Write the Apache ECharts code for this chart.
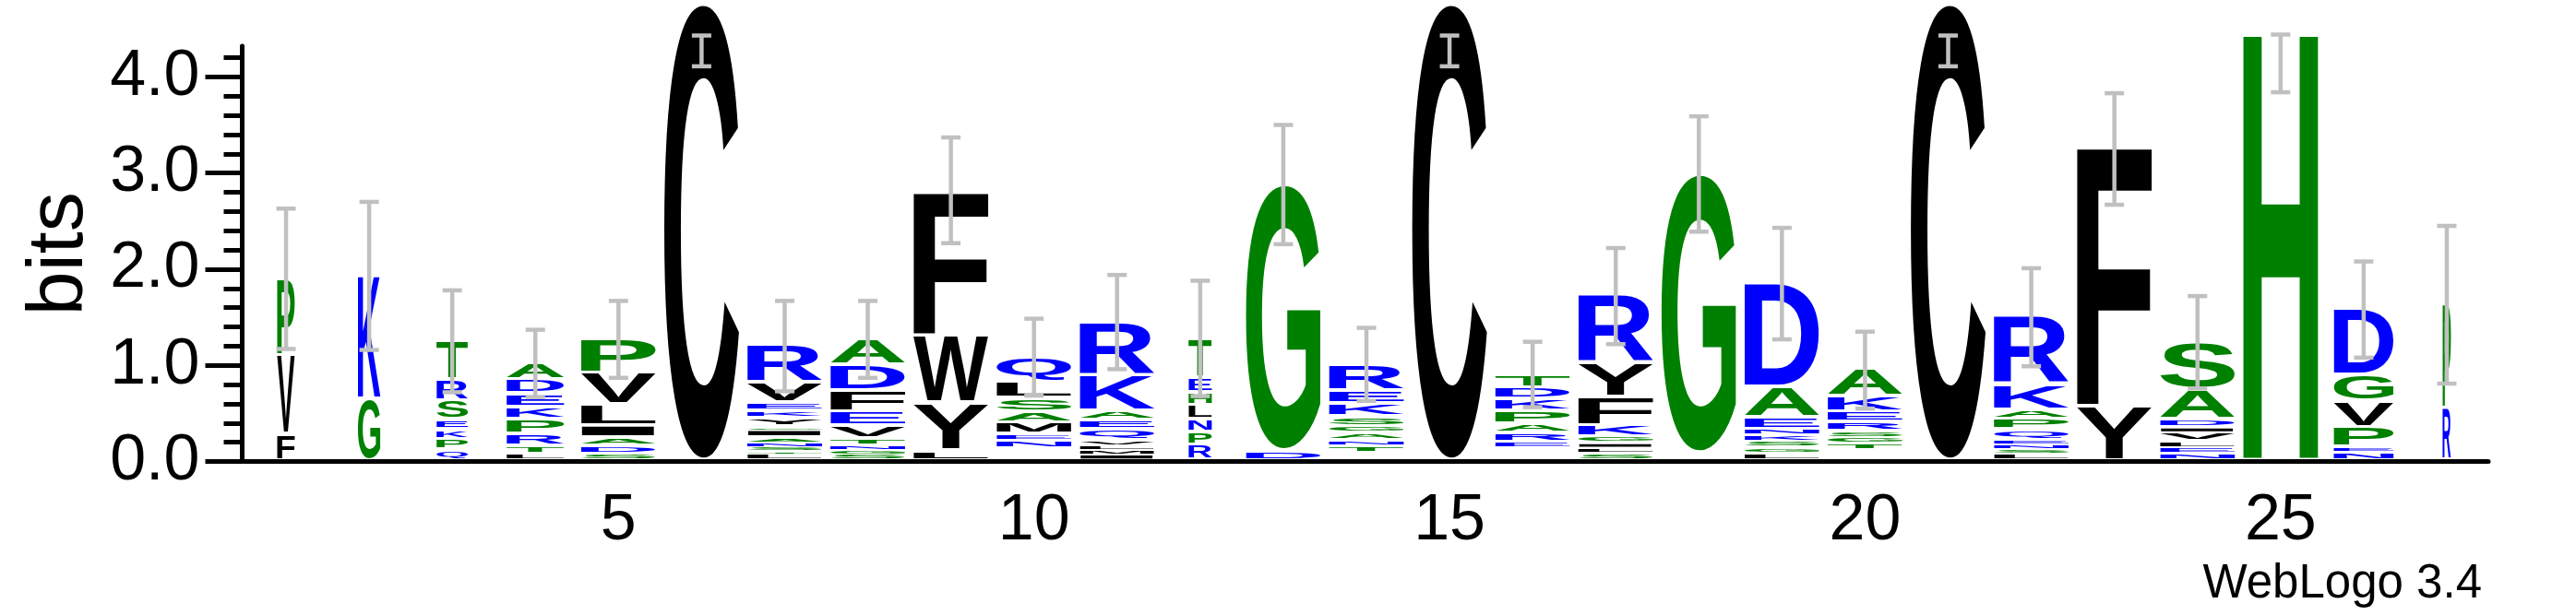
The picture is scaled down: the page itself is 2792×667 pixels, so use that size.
<!DOCTYPE html>
<html><head><meta charset="utf-8">
<script src="https://cdn.jsdelivr.net/npm/echarts@6/dist/echarts.min.js"></script>
<style>html,body{margin:0;padding:0;background:#fff}#c{width:2792px;height:667px}</style>
</head><body><div id="c"></div>
<script>
// ---- data ----
const positions = ['1','2','3','4','5','6','7','8','9','10','11','12','13','14','15','16','17','18','19','20','21','22','23','24','25','26','27'];
const xTickLabels = ['5','10','15','20','25'];
const yLabelValues = [0, 1, 2, 3, 4];
const yMinorValues = [0, 0.2, 0.4, 0.6, 0.8, 1, 1.2, 1.4, 1.6, 1.8, 2, 2.2, 2.4, 2.6, 2.8, 3, 3.2, 3.4, 3.6, 3.8, 4, 4.2];
const yMax = 4.32;
// letters of each stack, bottom to top (' ' = too thin to see)
const columnLetters = ['FVP','GK','QPKESRT','LTRPKEDA','SDAILVP','C','LTSNAIGYKEVR','SGNTVEFDA','LYWF',' NEMASLQ',
  'IMLVQEAKR','RPNLHET','DG',' TNAGSKER','C',' ERAPKDT','SLIGKFYR',' G','LGSKNEAD',' TGSREKA','C','LSNEQPAKR','YF','NELVIDAS','H','NEPVGD','RP'];
// bits of each letter, same order
const columnBits = [
  [0.27, 0.82, 0.81],
  [0.64, 1.29],
  [0.107, 0.112, 0.099, 0.102, 0.198, 0.217, 0.409],
  [0.062, 0.086, 0.128, 0.15, 0.128, 0.137, 0.144, 0.176],
  [0.062, 0.083, 0.089, 0.128, 0.217, 0.326, 0.354],
  [4.75],
  [0.069, 0.032, 0.038, 0.042, 0.054, 0.083, 0.032, 0.086, 0.08, 0.086, 0.208, 0.393],
  [0.062, 0.045, 0.042, 0.08, 0.134, 0.144, 0.217, 0.271, 0.271],
  [0.10, 0.495, 0.70, 1.504],
  [0.12, 0.083, 0.067, 0.118, 0.112, 0.144, 0.166, 0.265],
  [0.062, 0.038, 0.054, 0.051, 0.112, 0.102, 0.096, 0.367, 0.559],
  [0.158, 0.134, 0.134, 0.147, 0.134, 0.153, 0.406],
  [0.10, 2.77],
  [0.078, 0.07, 0.058, 0.077, 0.067, 0.102, 0.137, 0.134, 0.278],
  [4.75],
  [0.126, 0.061, 0.099, 0.093, 0.137, 0.118, 0.121, 0.137],
  [0.069, 0.058, 0.054, 0.064, 0.118, 0.297, 0.351, 0.712],
  [0.078, 2.90],
  [0.075, 0.058, 0.064, 0.064, 0.064, 0.121, 0.319, 1.082],
  [0.11, 0.061, 0.064, 0.064, 0.096, 0.105, 0.16, 0.288],
  [4.75],
  [0.069, 0.048, 0.048, 0.048, 0.105, 0.109, 0.099, 0.262, 0.718],
  [0.561, 2.71],
  [0.07, 0.061, 0.061, 0.094, 0.057, 0.086, 0.307, 0.495],
  [4.46],
  [0.082, 0.057, 0.205, 0.27, 0.274, 0.684],
  [0.54, 1.085]
];
// relative stack width (fraction of sequences without gaps)
const columnWidths = [0.235, 0.30, 0.42, 0.77, 1, 1, 1, 1, 1, 1, 1, 0.31, 1, 1, 1, 1, 1, 1, 1, 1, 1, 1, 1, 1, 1, 0.80, 0.11];
const errorCenter = [1.90, 1.93, 1.25, 1.02, 1.27, 4.27, 1.20, 1.27, 2.82, 1.085, 1.45, 1.28, 2.88, 1.01, 4.27, 0.905, 1.72, 2.99, 1.85, 0.95, 4.27, 1.50, 3.25, 1.24, 4.14, 1.58, 1.63];
const errorHalf   = [0.73, 0.77, 0.53, 0.35, 0.40, 0.16, 0.47, 0.40, 0.55, 0.40, 0.49, 0.60, 0.62, 0.38, 0.16, 0.34, 0.50, 0.60, 0.58, 0.40, 0.16, 0.51, 0.58, 0.48, 0.30, 0.50, 0.82];

// ---- styles ----
const GREEN = '#008000', BLUE = '#0000ff', BLACK = '#000000';
const letterColors = {A:GREEN,G:GREEN,H:GREEN,P:GREEN,S:GREEN,T:GREEN,
  D:BLUE,E:BLUE,K:BLUE,N:BLUE,Q:BLUE,R:BLUE,
  C:BLACK,F:BLACK,I:BLACK,L:BLACK,M:BLACK,V:BLACK,W:BLACK,Y:BLACK};
const LETTER_FONT = 'bold 200px "Liberation Sans"';
const FULL_WIDTH = 0.9;
const FONT = '"Liberation Sans", Arial, sans-serif';

const mctx = document.createElement('canvas').getContext('2d');
mctx.font = LETTER_FONT; mctx.textBaseline = 'middle'; mctx.textAlign = 'left';
const metricCache = {};
function metrics(ch) {
  if (!metricCache[ch]) {
    const m = mctx.measureText(ch);
    metricCache[ch] = {L: m.actualBoundingBoxLeft, R: m.actualBoundingBoxRight, A: m.actualBoundingBoxAscent, D: m.actualBoundingBoxDescent};
  }
  return metricCache[ch];
}

const letterItems = [], letterChars = [];
columnLetters.forEach((s, c) => {
  let base = 0;
  s.split('').forEach((ch, k) => {
    const v = columnBits[c][k];
    letterItems.push([c, base, base + v]);
    letterChars.push(ch);
    base += v;
  });
});
const errorItems = errorCenter.map((m, c) => [c, m, errorHalf[c]]);

const chart = echarts.init(document.getElementById('c'), null, {renderer: 'canvas'});
chart.setOption({
  animation: false,
  backgroundColor: '#fff',
  grid: {left: 265, right: 95, top: 50, bottom: 166.5, containLabel: false},
  xAxis: [{
    type: 'category', data: positions, position: 'bottom', boundaryGap: true,
    axisLine: {lineStyle: {color: '#000', width: 5}},
    axisTick: {alignWithLabel: true, interval: 0, length: 11, lineStyle: {color: '#000', width: 5}},
    axisLabel: {interval: 0, margin: 30, fontSize: 70, color: '#000', fontFamily: FONT,
      formatter: v => xTickLabels.includes(v) ? v : ''},
    splitLine: {show: false}
  }, {
    type: 'category', data: positions, position: 'bottom', boundaryGap: true,
    axisLine: {show: false},
    axisTick: {alignWithLabel: true, interval: (i, v) => xTickLabels.includes(v), length: 22, lineStyle: {color: '#000', width: 5}},
    axisLabel: {show: false}, splitLine: {show: false}
  }],
  yAxis: [{
    type: 'value', min: 0, max: yMax, position: 'left', offset: 2.5,
    axisLine: {show: true, lineStyle: {color: '#000', width: 5}},
    axisTick: {show: true, customValues: yLabelValues, length: 40, lineStyle: {color: '#000', width: 5}},
    axisLabel: {customValues: yLabelValues, margin: 46, fontSize: 70, color: '#000', fontFamily: FONT,
      formatter: v => Number(v).toFixed(1)},
    splitLine: {show: false},
    name: 'bits', nameLocation: 'middle', nameRotate: 90, nameGap: 143,
    nameTextStyle: {fontSize: 86, color: '#000', fontFamily: FONT}
  }, {
    type: 'value', min: 0, max: yMax, position: 'left', offset: 2.5,
    axisLine: {show: false},
    axisTick: {show: true, customValues: yMinorValues, length: 20, lineStyle: {color: '#000', width: 5}},
    axisLabel: {show: false}, splitLine: {show: false}
  }],
  graphic: [{
    type: 'text', x: 2690, y: 634,
    style: {text: 'WebLogo 3.4', font: '51px "Liberation Sans"', fill: '#000', align: 'right', verticalAlign: 'middle', textAlign: 'right', textVerticalAlign: 'middle'}
  }],
  series: [{
    type: 'custom', xAxisIndex: 0, yAxisIndex: 0, clip: false, z: 2,
    data: letterItems,
    renderItem: (params, api) => {
      const ch = letterChars[params.dataIndex];
      if (ch === ' ') return null;
      const c = api.value(0);
      const pb = api.coord([c, api.value(1)]);
      const pt = api.coord([c, api.value(2)]);
      const band = api.size([1, 0])[0];
      const w = band * FULL_WIDTH * columnWidths[c];
      const boxH = pb[1] - pt[1];
      const inset = Math.min(4, boxH * 0.5);
      const gh = boxH - inset;
      const m = metrics(ch);
      const sx = w / (m.L + m.R), sy = gh / (m.A + m.D);
      return {
        type: 'text', silent: true,
        x: pb[0] - w / 2 + m.L * sx, y: pt[1] + m.A * sy, scaleX: sx, scaleY: sy,
        style: {text: ch, font: LETTER_FONT, fill: letterColors[ch] || '#000', align: 'left', verticalAlign: 'middle', textAlign: 'left', textVerticalAlign: 'middle'}
      };
    }
  }, {
    type: 'custom', xAxisIndex: 0, yAxisIndex: 0, clip: false, z: 3,
    data: errorItems,
    renderItem: (params, api) => {
      const c = api.value(0), mid = api.value(1), half = api.value(2);
      const p1 = api.coord([c, mid + half]);
      const p2 = api.coord([c, mid - half]);
      const cap = 10.5;
      const st = {stroke: '#c0c0c0', lineWidth: 4.5};
      return {type: 'group', silent: true, children: [
        {type: 'line', shape: {x1: p1[0], y1: p1[1], x2: p2[0], y2: p2[1]}, style: st},
        {type: 'line', shape: {x1: p1[0] - cap, y1: p1[1], x2: p1[0] + cap, y2: p1[1]}, style: st},
        {type: 'line', shape: {x1: p2[0] - cap, y1: p2[1], x2: p2[0] + cap, y2: p2[1]}, style: st}
      ]};
    }
  }]
});
</script></body></html>
